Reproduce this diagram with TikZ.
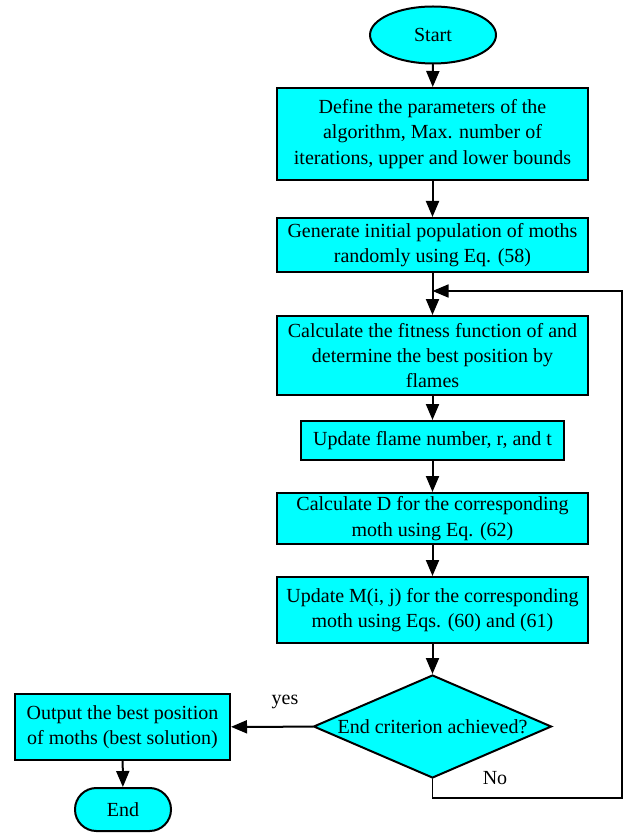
\documentclass[tikz,border=0pt]{standalone}
\usepackage{fontspec}
\setmainfont{Liberation Serif}
\usetikzlibrary{arrows.meta,shapes.geometric}
\definecolor{aqua}{RGB}{0,255,255}

\begin{document}
\begin{tikzpicture}[line cap=round,>={Triangle[length=8pt,width=6.5pt]},x=0.5pt,y=-0.5pt,
        box/.style={draw,line width=1pt,fill=aqua,align=center,inner sep=0pt,font=\fontsize{10}{12.7}\selectfont},
        widebox/.style={box,minimum width=155.5pt},
        link/.style={->,line width=1pt},
        tag/.style={font=\fontsize{10}{12}\selectfont}]
            \useasboundingbox (0,0) rectangle (625,834);
            \node[box,ellipse,minimum width=63pt,minimum height=28.5pt] (start) at (433,35) {Start};
            \node[widebox,minimum height=46pt] (params) at (432.5,134) {Define the parameters of the\\algorithm, Max. number of\\iterations, upper and lower bounds};
            \node[widebox,minimum height=27pt] (init) at (432.5,245) {Generate initial population of moths\\randomly using Eq. (58)};
            \node[widebox,minimum height=39.5pt] (fitness) at (432.5,355.5) {Calculate the fitness function of and\\determine the best position by\\flames};
            \node[box,minimum width=131.5pt,minimum height=19.5pt] (flame) at (432.5,440.5) {Update flame number, r, and t};
            \node[widebox,minimum height=25.5pt] (calcD) at (432.5,518.5) {Calculate D for the corresponding\\moth using Eq. (62)};
            \node[widebox,minimum height=33pt] (updM) at (432.5,610) {Update M(i, j) for the corresponding\\moth using Eqs. (60) and (61)};
            \node[box,diamond,aspect=2.3,minimum width=119pt,minimum height=51.5pt] (crit) at (432.5,726.5) {End criterion achieved?};
            \node[box,minimum width=107.5pt,minimum height=33pt] (output) at (122.5,727) {Output the best position\\of moths (best solution)};
            \node[box,rounded corners=10.7pt,minimum width=48pt,minimum height=21.5pt] (finish) at (123,809.5) {End};
            \node[tag] (yes) at (285,702) {yes};
            \node[tag] (no) at (495,778) {No};
            \coordinate (back) at (622,798);
            \coordinate (loop) at (432.5,291);
            \draw[link] (start) -- (params);
            \draw[link] (params) -- (init);
            \draw[link] (init) -- (fitness);
            \draw[link] (fitness) -- (flame);
            \draw[link] (flame) -- (calcD);
            \draw[link] (calcD) -- (updM);
            \draw[link] (updM) -- (crit);
            \draw[link] (crit) -- (output);
            \draw[link] (output) -- (finish);
            \draw[link,line width=0.8pt] (crit.south) |- (back) |- (loop);
        \end{tikzpicture}
\end{document}
